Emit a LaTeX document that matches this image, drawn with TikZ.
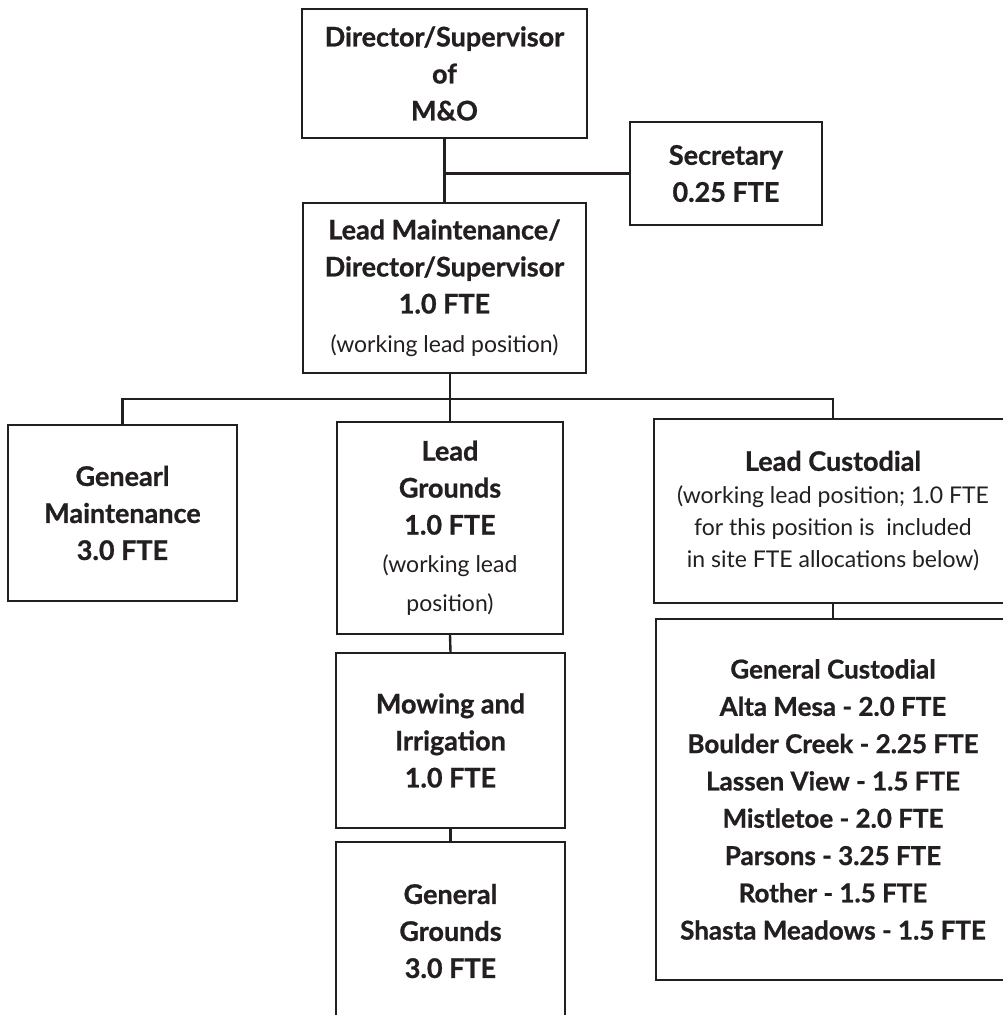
\documentclass[tikz,border=0pt]{standalone}
\usepackage{fontspec}
\setmainfont{Lato}[BoldFeatures={FakeBold=0.9}]
\definecolor{ink}{HTML}{231F20}
\begin{document}
\begin{tikzpicture}[x=1pt,y=-1pt,
  box/.style={draw=ink, line width=2pt, text=ink, align=center, inner sep=0pt,
    font=\fontsize{27}{37}\selectfont\bfseries},
  conn/.style={draw=ink, line width=2.4pt}]
\useasboundingbox (0,0) rectangle (1003,1015);
\clip (0,0) rectangle (1003,1015);
\fill[white] (0,0) rectangle (1003,1015);
\newcommand{\rg}{\fontsize{23}{32}\selectfont\mdseries}

\node[box, minimum width=285pt, minimum height=129pt] (dir) at (444.5,73.5)
  {Director/Supervisor\\of\\M\&O};
\node[box, minimum width=192pt, minimum height=103pt] (sec) at (726,173.5)
  {Secretary\\0.25 FTE};
\node[box, minimum width=283pt, minimum height=170pt] (lm) at (444.5,288)
  {Lead Maintenance/\\Director/Supervisor\\1.0 FTE\\[2pt]{\rg (working lead position)}};
\node[box, minimum width=229pt, minimum height=176pt] (gm) at (122.5,513)
  {Genearl\\Maintenance\\3.0 FTE};
\node[box, minimum width=226pt, minimum height=212pt] (lg) at (450,528)
  {Lead\\Grounds\\1.0 FTE\\[1pt]{\rg (working lead}\\[2pt]{\rg position)}};
\node[box, minimum width=229pt, minimum height=175pt] (mw) at (450.5,740.5)
  {Mowing and\\Irrigation\\1.0 FTE};
\node[box, minimum width=229pt, minimum height=178pt] (gg) at (450.5,931)
  {General\\Grounds\\3.0 FTE};
\node[box, minimum width=358pt, minimum height=184pt] (lc) at (833,511)
  {Lead Custodial\\[-4pt]{\rg (working lead position; 1.0 FTE}\\[-5pt]{\rg for this position is\ \ included}\\[-5pt]{\rg in site FTE allocations below)}};
\node[box, minimum width=354pt, minimum height=361pt,
  font=\fontsize{26}{37.3}\selectfont\bfseries] (gc) at (833,799.5)
  {General Custodial\\Alta Mesa - 2.0 FTE\\Boulder Creek - 2.25 FTE\\Lassen View - 1.5 FTE\\Mistletoe - 2.0 FTE\\Parsons - 3.25 FTE\\Rother - 1.5 FTE\\Shasta Meadows - 1.5 FTE};

\draw[conn] (dir.south) -- (lm.north);
\draw[conn] (sec.west) -- (sec.west -| dir.south);
\draw[conn] (lm.south -| lg.north) -- (lg.north);
\draw[conn] (gm.north) -- ++(0,-25) -| (lc.north);
\draw[conn] (lg.south) -- (mw.north);
\draw[conn] (mw.south) -- (gg.north);
\draw[conn] (lc.south) -- (gc.north);
\end{tikzpicture}
\end{document}
